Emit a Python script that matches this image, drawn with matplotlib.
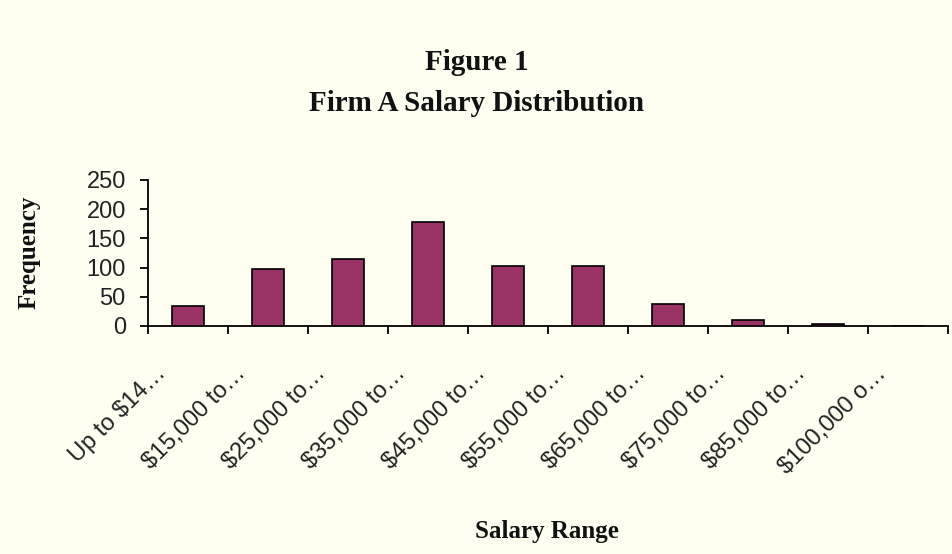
import matplotlib
matplotlib.use("Agg")
import matplotlib.pyplot as plt
from matplotlib.transforms import ScaledTranslation
import numpy as np

categories = ["Up to $14…", "$15,000 to…", "$25,000 to…", "$35,000 to…", "$45,000 to…",
              "$55,000 to…", "$65,000 to…", "$75,000 to…", "$85,000 to…", "$100,000 o…"]
frequency = [34, 97, 114, 178, 103, 103, 38, 11, 4, 0]
y_ticks = [0, 50, 100, 150, 200, 250]

bg = "#FEFEF1"
bar_color = "#993366"

fig = plt.figure(figsize=(9.53, 5.54), dpi=100, facecolor=bg)
ax = fig.add_axes([148/953, 1-326/554, 800/953, 146/554], facecolor=bg)

x = np.arange(len(categories))
ax.bar(x, frequency, width=0.4, color=bar_color, edgecolor="black", linewidth=1.2, zorder=3)

ax.set_xlim(-0.5, len(categories) - 0.5)
ax.set_ylim(0, 250)
ax.set_yticks(y_ticks)

for s in ["top", "right"]:
    ax.spines[s].set_visible(False)
for s in ["left", "bottom"]:
    ax.spines[s].set_linewidth(1.3)
    ax.spines[s].set_color("black")

tick_font = ["Liberation Sans", "DejaVu Sans"]
ax.tick_params(axis="y", direction="out", length=6, width=1.3, pad=10,
               labelsize=17, colors="black")
for lab in ax.get_yticklabels():
    lab.set_family(tick_font)
    lab.set_color("#222222")

# boundary ticks (minor) and labels at centers (major)
ax.set_xticks(np.arange(-0.5, len(categories)), minor=True)
ax.set_xticks(x)
ax.set_xticklabels(categories, rotation=45, ha="right", va="baseline",
                   rotation_mode="anchor", fontsize=17, family=tick_font, color="#222222")
ax.tick_params(axis="x", which="minor", direction="out", length=6, width=1.3)
ax.tick_params(axis="x", which="major", length=0, pad=35)
offset = ScaledTranslation(-21/100, 0, fig.dpi_scale_trans)
for lab in ax.get_xticklabels():
    lab.set_transform(lab.get_transform() + offset)

serif = ["Liberation Serif", "DejaVu Serif"]
fig.text(0.5, 1-70/554, "Figure 1", ha="center", va="baseline",
         fontsize=21, fontweight="bold", family=serif, color="#111111")
fig.text(0.5, 1-111/554, "Firm A Salary Distribution", ha="center", va="baseline",
         fontsize=21, fontweight="bold", family=serif, color="#111111")
fig.text(547/953, 1-538/554, "Salary Range", ha="center", va="baseline",
         fontsize=18, fontweight="bold", family=serif, color="#111111")
fig.text(29/953, 1-252/554, "Frequency", ha="center", va="center", rotation=90,
         fontsize=18, fontweight="bold", family=serif, color="#111111")

fig.savefig("out.png", dpi=100, facecolor=bg)
